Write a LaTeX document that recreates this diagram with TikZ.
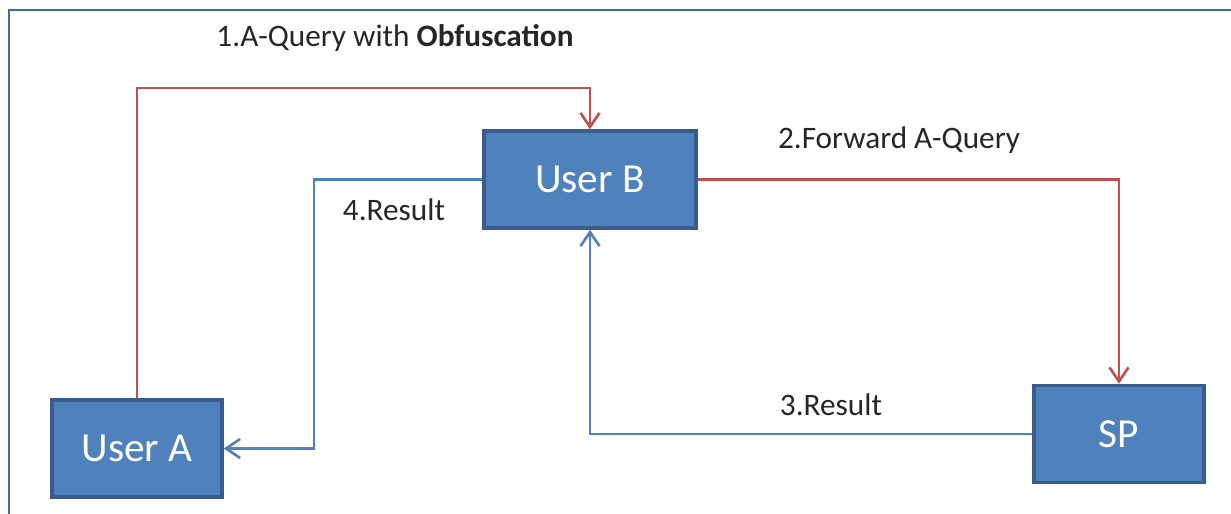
\documentclass[tikz,border=0pt]{standalone}
\usepackage{fontspec}
\setmainfont{Carlito}
\usepackage{xcolor}
\usepackage{tikz}
\usetikzlibrary{arrows.meta,shapes,calc}

\definecolor{boxfill}{HTML}{4F81BD}
\definecolor{boxline}{HTML}{385D8A}
\definecolor{qline}{HTML}{C0504D}
\definecolor{rline}{HTML}{4F81BD}
\definecolor{frameline}{HTML}{3F6AA3}

\begin{document}
\begin{tikzpicture}[x=0.02cm,y=-0.02cm]
\tikzset{party/.style={rectangle, draw=boxline, fill=boxfill, line width=2pt, text=white, minimum height=1.94cm, font=\fontsize{23.5}{28}\selectfont},
  msg/.style={text=black!85, font=\fontsize{17.8}{22}\selectfont},
  query/.style={draw=qline, line width=1.5pt, -{Straight Barb[length=0.28cm,width=0.38cm]}},
  answer/.style={draw=rline, line width=1.5pt, -{Straight Barb[length=0.28cm,width=0.38cm]}}}
\useasboundingbox (0,0) rectangle (1231,514);
\draw[frameline, line width=1.5pt] (1240,10) -- (9,10) -- (9,530);

\node[party, minimum width=4.24cm] (ub) at (590,179.5) {User B};
\node[party, minimum width=3.4cm] (ua) at (137,448.5) {User A};
\node[party, minimum width=3.4cm] (sp) at (1119,434) {SP};

\coordinate (top1) at (590,88);
\coordinate (c4) at (314,300);

\draw[query] (ua.north) |- (top1) -- (ub.north);
\draw[query] (ub.east) -| (sp.north);
\draw[answer] (sp.west) -| (ub.south);
\draw[answer] (ub.west) -| (c4) |- (ua.east);

\node[msg] (m1) at (395,38) {1.A-Query with \textbf{Obfuscation}};
\node[msg] (m2) at (899,140) {2.Forward A-Query};
\node[msg] (m3) at (831,405) {3.Result};
\node[msg] (m4) at (394,210) {4.Result};
\end{tikzpicture}
\end{document}
